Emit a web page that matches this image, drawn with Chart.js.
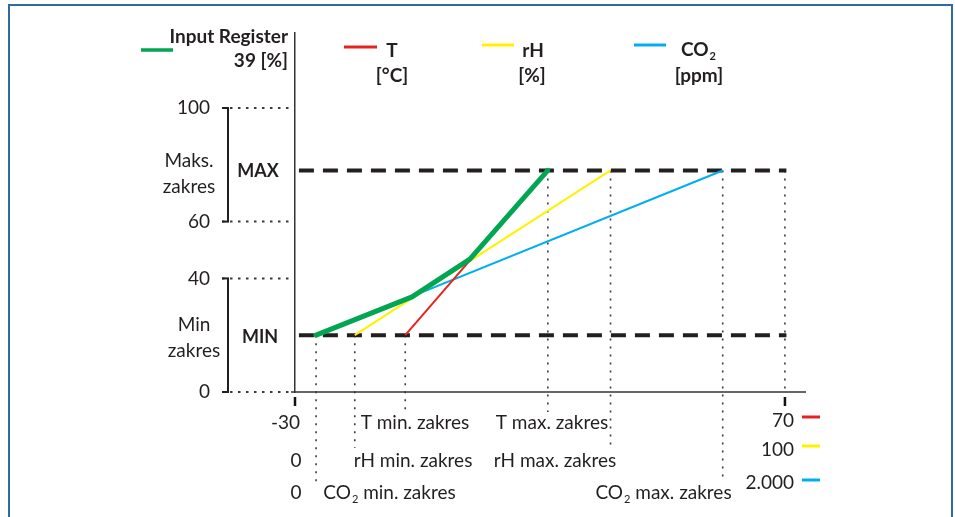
<!DOCTYPE html>
<html>
<head>
<meta charset="utf-8">
<script src="https://cdn.jsdelivr.net/npm/chart.js@4"></script>
<style>
  html, body { margin: 0; padding: 0; background: #fff; }
  #wrap { width: 955px; height: 517px; position: relative; }
</style>
</head>
<body>
<div id="wrap"><canvas id="c" width="955" height="517"></canvas></div>
<script>
// ---------- data ----------
const seriesNames  = ['Input Register', 'T', 'rH', 'CO2'];
const seriesUnits  = ['39 [%]', '[°C]', '[%]', '[ppm]'];
const seriesColors = ['#00a651', '#e52421', '#fff200', '#00aeef'];

const tRange   = [-30, 70];      // T [°C]
const rhRange  = [0, 100];       // rH [%]
const co2Range = [0, 2000];      // CO2 [ppm]
const rangeEndLabels   = ['70', '100', '2.000'];
const rangeStartLabels = ['-30', '0', '0'];

const yTickValues = [0, 40, 60, 100];   // Input Register 39 [%]
const outMin = 20;                      // MIN
const outMax = 78;                      // MAX

const tZakres   = [-7.5, 21.6];          // T min / max zakres
const rhZakres  = [12.2, 64.4];          // rH min / max zakres
const co2Zakres = [86, 1746];            // CO2 min / max zakres

// resulting Input Register curve (on T axis)
const irX = [-25.7, -6.1, 5.7, 21.6];
const irY = [20, 33.5, 46.8, 78];

// ---------- chart ----------
const FONT = 'Lato, "Open Sans", sans-serif';
const TXT = '#231f20';
const FS = 19;     // regular text size
const FB = 19;     // bold legend size

const pts = (xs, ys) => xs.map((x, i) => ({ x: x, y: ys[i] }));

const datasets = [
  { label: seriesNames[0], data: pts(irX, irY), xAxisID: 'xT',
    borderColor: seriesColors[0], borderWidth: 5, borderCapStyle: 'round', borderJoinStyle: 'round' },
  { label: seriesNames[1], data: pts(tZakres, [outMin, outMax]), xAxisID: 'xT',
    borderColor: seriesColors[1], borderWidth: 2 },
  { label: seriesNames[2], data: pts(rhZakres, [outMin, outMax]), xAxisID: 'xRH',
    borderColor: seriesColors[2], borderWidth: 2 },
  { label: seriesNames[3], data: pts(co2Zakres, [outMin, outMax]), xAxisID: 'xCO2',
    borderColor: seriesColors[3], borderWidth: 2 },
  { label: 'MAX', data: pts([-29.2, 70.3], [outMax, outMax]), xAxisID: 'xT',
    borderColor: TXT, borderWidth: 4, borderDash: [15, 9], borderCapStyle: 'butt' },
  { label: 'MIN', data: pts([-29.2, 70.3], [outMin, outMin]), xAxisID: 'xT',
    borderColor: TXT, borderWidth: 4, borderDash: [15, 9], borderCapStyle: 'butt' }
];

function dotted(ctx, x1, y1, x2, y2, dash, w) {
  ctx.save();
  ctx.strokeStyle = '#3a3a3a';
  ctx.lineWidth = w || 1.6;
  ctx.setLineDash(dash || [2, 6]);
  ctx.beginPath(); ctx.moveTo(x1, y1); ctx.lineTo(x2, y2); ctx.stroke();
  ctx.restore();
}
function solid(ctx, x1, y1, x2, y2, w, col) {
  ctx.save();
  ctx.strokeStyle = col || TXT;
  ctx.lineWidth = w || 2;
  ctx.beginPath(); ctx.moveTo(x1, y1); ctx.lineTo(x2, y2); ctx.stroke();
  ctx.restore();
}
function text(ctx, s, x, y, align, bold, size) {
  ctx.save();
  ctx.fillStyle = TXT;
  ctx.font = (bold ? 'bold ' : '') + (size || FS) + 'px ' + FONT;
  ctx.textAlign = align || 'center';
  ctx.textBaseline = 'middle';
  ctx.fillText(s, x, y);
  ctx.restore();
}
// text with CO2 subscript
function co2text(ctx, rest, x, y, align, bold, size) {
  size = size || FS;
  ctx.save();
  ctx.fillStyle = TXT;
  const f = (bold ? 'bold ' : '') + size + 'px ' + FONT;
  const fs = (bold ? 'bold ' : '') + Math.round(size * 0.6) + 'px ' + FONT;
  ctx.font = f; const wCO = ctx.measureText('CO').width;
  const wRest = ctx.measureText(rest).width;
  ctx.font = fs; const w2 = ctx.measureText('2').width;
  const total = wCO + w2 + wRest;
  let x0 = align === 'left' ? x : align === 'right' ? x - total : x - total / 2;
  ctx.textBaseline = 'middle'; ctx.textAlign = 'left';
  ctx.font = f; ctx.fillText('CO', x0, y);
  ctx.font = fs; ctx.fillText('2', x0 + wCO + 1, y + size * 0.35);
  ctx.font = f; ctx.fillText(rest, x0 + wCO + w2 + 1, y);
  ctx.restore();
}

const guides = {
  id: 'guides',
  beforeDatasetsDraw(chart) {
    const ctx = chart.ctx;
    const y = chart.scales.y, xT = chart.scales.xT, xR = chart.scales.xRH, xC = chart.scales.xCO2;
    const yMin = y.getPixelForValue(outMin), yMax = y.getPixelForValue(outMax);
    const left = chart.chartArea.left, bottom = y.getPixelForValue(0);
    // horizontal dotted lines at y ticks
    yTickValues.forEach(v => {
      const py = y.getPixelForValue(v);
      dotted(ctx, 222, py, left, py, [2.5, 5.5], 2);
    });
    // brackets
    [[100, 60], [40, 0]].forEach(([a, b]) => {
      const pa = y.getPixelForValue(a), pb = y.getPixelForValue(b);
      solid(ctx, 228, pa, 228, pb, 2);
      solid(ctx, 222, pa, 229, pa, 2);
      solid(ctx, 222, pb, 229, pb, 2);
    });
    // vertical dotted guides
    dotted(ctx, xC.getPixelForValue(co2Zakres[0]), yMin, xC.getPixelForValue(co2Zakres[0]), 482);
    dotted(ctx, xR.getPixelForValue(rhZakres[0]),  yMin, xR.getPixelForValue(rhZakres[0]), 448);
    dotted(ctx, xT.getPixelForValue(tZakres[0]),   yMin, xT.getPixelForValue(tZakres[0]), 412);
    dotted(ctx, xT.getPixelForValue(tZakres[1]),   yMax, xT.getPixelForValue(tZakres[1]), 412);
    dotted(ctx, xR.getPixelForValue(rhZakres[1]),  yMax, xR.getPixelForValue(rhZakres[1]), 448);
    dotted(ctx, xC.getPixelForValue(co2Zakres[1]), yMax, xC.getPixelForValue(co2Zakres[1]), 482);
    dotted(ctx, xT.getPixelForValue(tRange[1]),    yMax, xT.getPixelForValue(tRange[1]), bottom);
  },
  afterDraw(chart) {
    const ctx = chart.ctx;
    const y = chart.scales.y, xT = chart.scales.xT;
    const ca = chart.chartArea;
    const bottom = y.getPixelForValue(0);
    // x axis line and tick marks
    solid(ctx, ca.left - 4, bottom, ca.right, bottom, 1.5, '#333');
    [tRange[0], tRange[1]].forEach(v => {
      const px = xT.getPixelForValue(v);
      solid(ctx, px, bottom + 5, px, bottom + 14, 2.5, '#111');
    });
    // MIN / MAX
    text(ctx, 'MAX', 258, y.getPixelForValue(outMax) + 1, 'center', true, 18);
    text(ctx, 'MIN', 260, y.getPixelForValue(outMin) + 2, 'center', true, 18);
    text(ctx, 'Maks.', 189, 161, 'center');
    text(ctx, 'zakres', 189, 187, 'center');
    text(ctx, 'Min', 194, 325, 'center');
    text(ctx, 'zakres', 194, 351, 'center');
    // range start labels
    text(ctx, rangeStartLabels[0], 300, 423, 'right');
    text(ctx, rangeStartLabels[1], 296, 461, 'center');
    text(ctx, rangeStartLabels[2], 296, 493, 'center');
    // zakres labels
    text(ctx, 'T min. zakres', 415, 423, 'center');
    text(ctx, 'T max. zakres', 552, 423, 'center');
    text(ctx, 'rH min. zakres', 413, 461, 'center');
    text(ctx, 'rH max. zakres', 555, 461, 'center');
    co2text(ctx, ' min. zakres', 389, 493, 'center');
    co2text(ctx, ' max. zakres', 663, 493, 'center');
    // range end labels + colour keys
    const endY = [421, 450, 483], keyY = [417, 446, 480];
    rangeEndLabels.forEach((s, i) => {
      text(ctx, s, 794, endY[i], 'right');
      solid(ctx, 802, keyY[i], 820, keyY[i], 3, seriesColors[i + 1]);
    });
    // top legend
    solid(ctx, 141, 50, 173, 50, 3.5, seriesColors[0]);
    text(ctx, seriesNames[0], 288, 37, 'right', true, FB);
    text(ctx, seriesUnits[0], 288, 61, 'right', true, FB);
    solid(ctx, 344, 47, 377, 47, 3, seriesColors[1]);
    text(ctx, seriesNames[1], 392, 51, 'center', true, FB);
    text(ctx, seriesUnits[1], 392, 76, 'center', true, FB);
    solid(ctx, 482, 45, 514, 45, 3, seriesColors[2]);
    text(ctx, seriesNames[2], 533, 51, 'center', true, FB);
    text(ctx, seriesUnits[2], 532, 76, 'center', true, FB);
    solid(ctx, 634, 45, 666, 45, 3, seriesColors[3]);
    co2text(ctx, '', 698, 50, 'center', true, FB);
    text(ctx, seriesUnits[3], 699, 76, 'center', true, FB);
    // frame
    ctx.save();
    ctx.strokeStyle = '#2f6aa3'; ctx.lineWidth = 2;
    ctx.beginPath(); ctx.moveTo(9, 520); ctx.lineTo(9, 5); ctx.lineTo(952, 5); ctx.lineTo(952, 520); ctx.stroke();
    ctx.restore();
  }
};

new Chart(document.getElementById('c'), {
  type: 'line',
  data: { datasets: datasets },
  options: {
    responsive: false,
    animation: false,
    events: [],
    layout: { padding: { left: 175, right: 149, top: 33, bottom: 125 } },
    elements: { point: { radius: 0 }, line: { tension: 0 } },
    plugins: { legend: { display: false }, tooltip: { enabled: false } },
    scales: {
      xT:   { type: 'linear', position: 'bottom', min: tRange[0],   max: 74.3, display: false },
      xRH:  { type: 'linear', position: 'bottom', min: rhRange[0],  max: 104.3, display: false },
      xCO2: { type: 'linear', position: 'bottom', min: co2Range[0], max: 2086, display: false },
      y: {
        type: 'linear', position: 'left', min: 0, max: 126.4,
        afterBuildTicks: (s) => { s.ticks = yTickValues.map(v => ({ value: v })); },
        afterFit: (s) => { s.width = 120; s.paddingTop = 0; s.paddingBottom = 0; },
        grid: { display: false, drawTicks: false },
        border: { display: true, color: '#333', width: 1.5 },
        ticks: { padding: 85, color: TXT, font: { family: FONT, size: FS } }
      }
    }
  },
  plugins: [guides]
});
</script>
</body>
</html>
